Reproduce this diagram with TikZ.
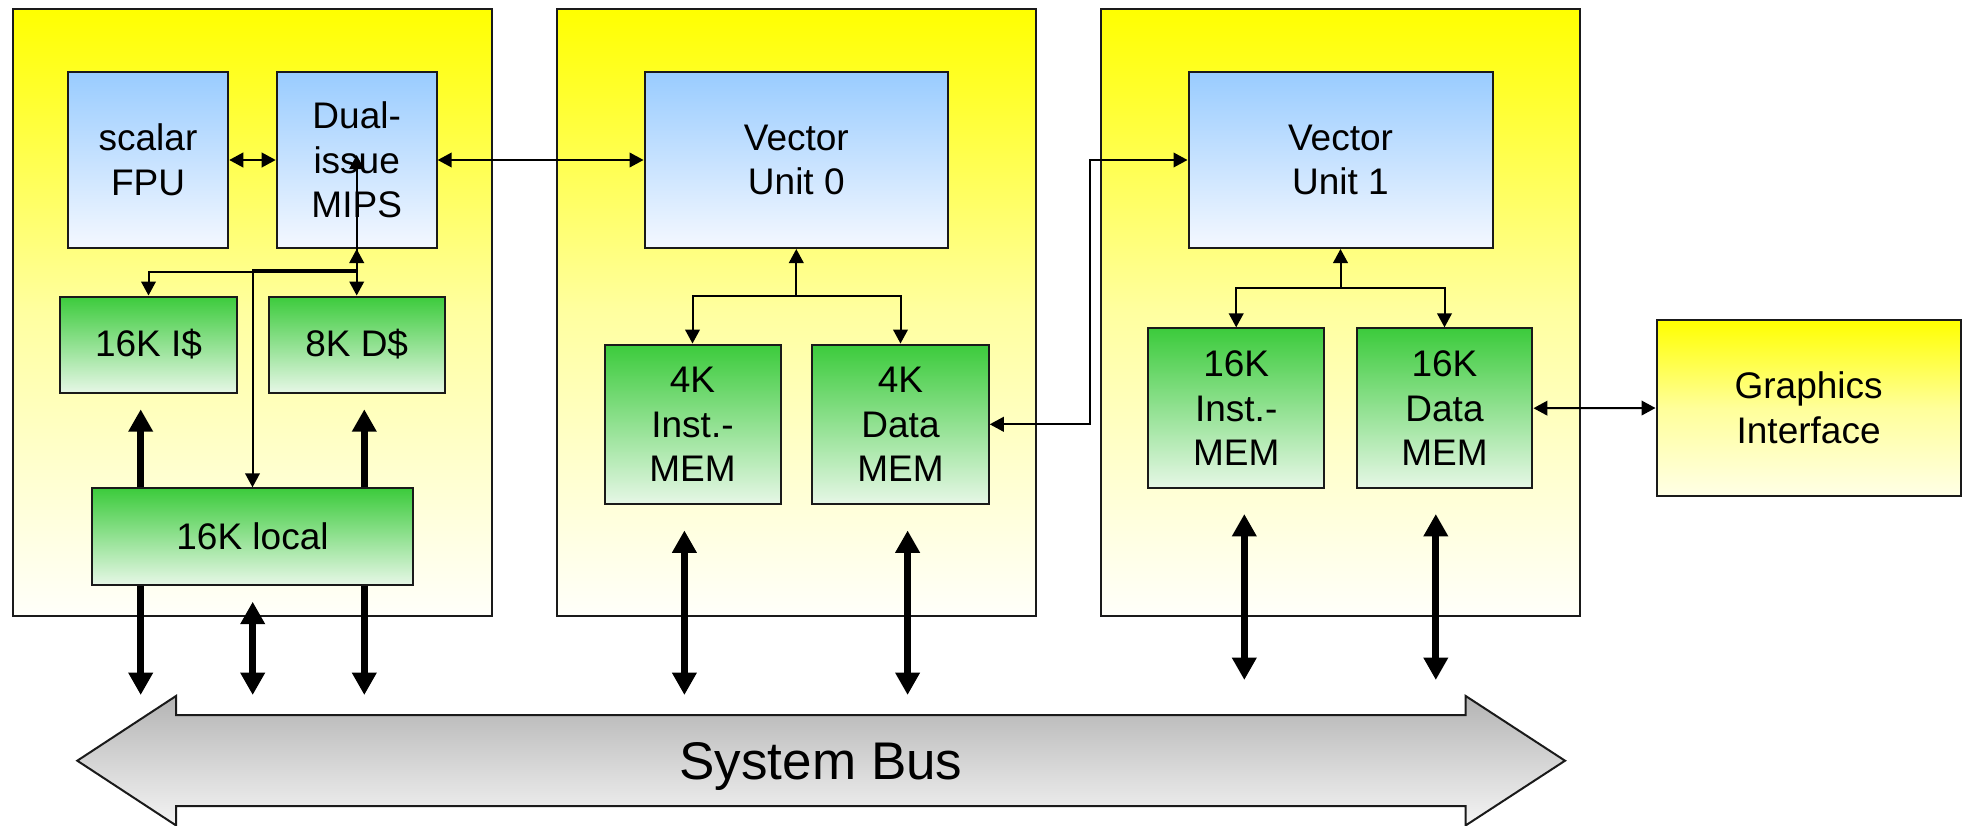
\documentclass[tikz,border=0pt]{standalone}
\usepackage{fontspec}
\setmainfont{Liberation Sans}
\usetikzlibrary{arrows.meta}
\definecolor{ylwtop}{HTML}{FFFF00}
\definecolor{ylwmid}{HTML}{FFFFA0}
\definecolor{ylwbot}{HTML}{FFFFFA}
\definecolor{giftop}{HTML}{FFFF00}
\definecolor{gifmid}{HTML}{FFFF9A}
\definecolor{gifbot}{HTML}{FFFFE6}
\definecolor{bluetop}{HTML}{99CCFF}
\definecolor{bluebot}{HTML}{F4F8FF}
\definecolor{grntop}{HTML}{3CCB3C}
\definecolor{grnbot}{HTML}{E6F7E6}
\definecolor{grytop}{HTML}{B4B4B4}
\definecolor{grybot}{HTML}{F4F4F4}
\definecolor{edge}{HTML}{1A1A1A}
\begin{document}
\begin{tikzpicture}[x=0.5pt,y=-0.5pt,
  box/.style={draw=edge, line width=1pt, inner sep=0pt, align=center,
    font=\fontsize{18.5}{22.3}\selectfont},
  unitbox/.style={box, top color=ylwtop, bottom color=ylwbot, middle color=ylwmid,
    minimum width=239.5pt, minimum height=303.6pt},
  cpubox/.style={box, top color=bluetop, bottom color=bluebot},
  membox/.style={box, top color=grntop, bottom color=grnbot},
  gifbox/.style={box, top color=giftop, bottom color=gifbot, middle color=gifmid},
  wire/.style={draw=black, line width=1pt,
    arrows={-Triangle[length=7pt,width=7.3pt]}},
  wire2/.style={wire, arrows={Triangle[length=7pt,width=7.3pt]-Triangle[length=7pt,width=7.3pt]}},
  fat/.style={draw=black, line width=3.5pt,
    arrows={-Triangle[length=11.2pt,width=11.7pt]}},
  fat2/.style={fat, arrows={Triangle[length=11.2pt,width=11.7pt]-Triangle[length=11.2pt,width=11.7pt]}},
]
\useasboundingbox (0,0) rectangle (1966,825);

% processing units
\node[unitbox] (u1) at (252,312.4) {};
\node[unitbox] (u2) at (796.5,312.4) {};
\node[unitbox] (u3) at (1340.5,312.4) {};

% EE core
\node[cpubox, minimum width=80.25pt, minimum height=88pt] (fpu) at (148,160) {scalar\\FPU};
\node[cpubox, minimum width=80pt, minimum height=88pt] (mips) at (356.7,160) {Dual-\\issue\\MIPS};
\node[membox, minimum width=88.25pt, minimum height=48pt] (icache) at (148.5,344.5) {16K I\$};
\node[membox, minimum width=88pt, minimum height=48pt] (dcache) at (356.7,344.5) {8K D\$};
\node[membox, minimum width=160.2pt, minimum height=48.1pt] (local) at (252.5,536.4) {16K local};

% vector unit 0
\node[cpubox, minimum width=151.75pt, minimum height=88pt] (vu0) at (796.3,160) {Vector\\Unit 0};
\node[membox, minimum width=88pt, minimum height=79.75pt] (imem0) at (692.5,424.3) {4K\\Inst.-\\MEM};
\node[membox, minimum width=88.25pt, minimum height=79.75pt] (dmem0) at (900.5,424.3) {4K\\Data\\MEM};

% vector unit 1
\node[cpubox, minimum width=152pt, minimum height=88pt] (vu1) at (1340.5,160) {Vector\\Unit 1};
\node[membox, minimum width=87.85pt, minimum height=79.85pt] (imem1) at (1236.2,408.2) {16K\\Inst.-\\MEM};
\node[membox, minimum width=87.95pt, minimum height=79.85pt] (dmem1) at (1444.5,408.2) {16K\\Data\\MEM};

\node[gifbox, minimum width=152.1pt, minimum height=87.9pt] (gif) at (1808.6,408) {Graphics\\Interface};

% core interconnect
\draw[wire2] (fpu.east) -- (mips.west);
\draw[wire2] (mips.east) -- (vu0.west);
\draw[wire2] (mips.south) -- (dcache.north);
\coordinate (jn) at (356.7,272.3);
\coordinate (jl) at (356.7,270);
\coordinate (mipsin) at (356.7,155);
\draw[wire] (jn) -| (icache.north);
\draw[wire] (jl) -| (local.north);
\draw[wire] (jn) -- (mipsin);

% vector unit 0 memories
\coordinate (j0) at (796.3,296.4);
\draw[wire] (j0) -- (vu0.south);
\draw[wire2] (imem0.north) |- (j0) -| (dmem0.north);

% vector unit 1 memories
\coordinate (j1) at (1340.5,288);
\draw[wire] (j1) -- (vu1.south);
\draw[wire2] (imem1.north) |- (j1) -| (dmem1.north);

% cross links
\draw[wire2] (dmem0.east) -- ++(100,0) |- (vu1.west);
\draw[wire2] (dmem1.east) -- (gif.west);

% wide data paths
\coordinate (ai) at (140.7,409.3);
\coordinate (ad) at (364.3,409.3);
\coordinate (bi) at (140.7,695);
\coordinate (bd) at (364.3,695);
\draw[fat] (ai |- local.north) -- (ai);
\draw[fat] (ad |- local.north) -- (ad);
\draw[fat] (bi |- local.south) -- (bi);
\draw[fat] (bd |- local.south) -- (bd);
\coordinate (mt) at (252.7,601.7);
\coordinate (mb) at (252.7,695);
\draw[fat2] (mt) -- (mb);
\coordinate (v0it) at (684.4,530.4);
\coordinate (v0ib) at (684.4,695);
\coordinate (v0dt) at (907.6,530.4);
\coordinate (v0db) at (907.6,695);
\draw[fat2] (v0it) -- (v0ib);
\draw[fat2] (v0dt) -- (v0db);
\coordinate (v1it) at (1244.3,514);
\coordinate (v1ib) at (1244.3,680);
\coordinate (v1dt) at (1435.8,514);
\coordinate (v1db) at (1435.8,680);
\draw[fat2] (v1it) -- (v1ib);
\draw[fat2] (v1dt) -- (v1db);

% system bus
\path[draw=edge, line width=1pt, top color=grytop, bottom color=grybot]
  (77.3,760.7) -- (176,696) -- (176,715) -- (1465.7,715) -- (1465.7,696)
  -- (1565,760.7) -- (1465.7,825.4) -- (1465.7,806) -- (176,806) -- (176,825.4) -- cycle;
\node[font=\fontsize{26.5}{30}\selectfont, inner sep=0pt] (bus) at (821,766) {System Bus};
\end{tikzpicture}
\end{document}
